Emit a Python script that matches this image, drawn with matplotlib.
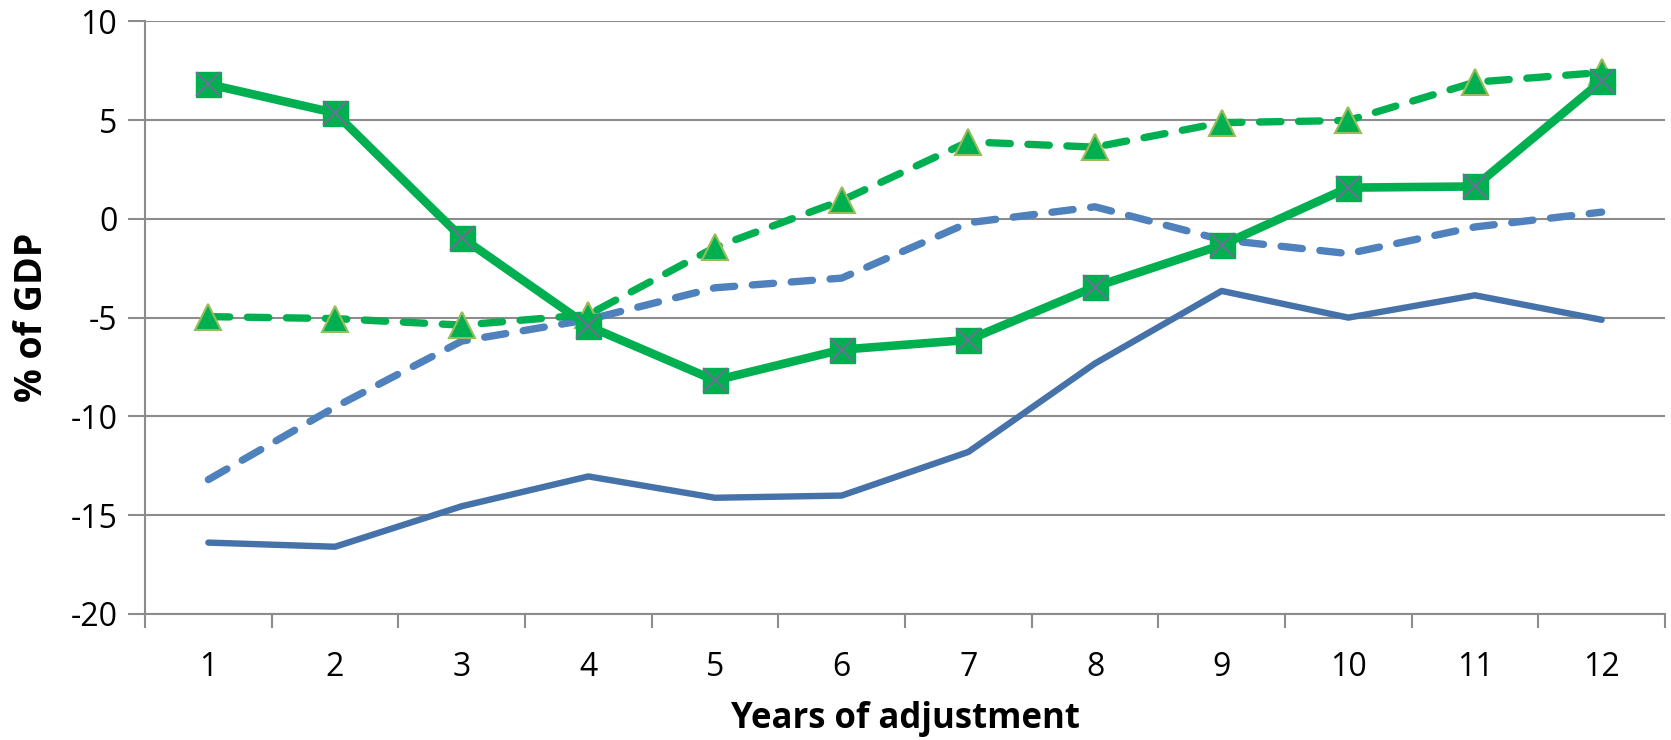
import numpy as np
import matplotlib.pyplot as plt

years = np.arange(1, 13)

# % of GDP series over the adjustment years
green_solid = [6.82, 5.36, -0.95, -5.43, -8.18, -6.62, -6.13, -3.44, -1.33, 1.58, 1.64, 6.98]
green_dashed = [-4.95, -5.05, -5.38, -4.85, -1.44, 0.93, 3.9, 3.63, 4.87, 4.98, 6.92, 7.41]
blue_dashed = [-13.2, -9.53, -6.19, -5.1, -3.49, -3.0, -0.2, 0.61, -1.06, -1.76, -0.41, 0.34]
blue_solid = [-16.39, -16.6, -14.55, -13.04, -14.12, -14.01, -11.8, -7.32, -3.65, -5.0, -3.87, -5.11]

GREEN = "#00B050"
BLUE = "#4672AA"
BLUE_LIGHT = "#4F81BD"
GRID = "#8C8C8C"

plt.rcParams["font.family"] = ["Open Sans", "DejaVu Sans"]
plt.rcParams["axes.unicode_minus"] = False

fig = plt.figure(figsize=(16.71, 7.40), dpi=100)
ax = fig.add_axes([0.0868, 0.1704, 0.9096, 0.8008])

ax.plot(years, blue_solid, color=BLUE, lw=4.6, solid_capstyle="round",
        solid_joinstyle="round", zorder=3)
ax.plot(years, blue_dashed, color=BLUE_LIGHT, lw=5.3, dashes=(2.9, 2.4),
        dash_capstyle="round", dash_joinstyle="round", zorder=3)
ax.plot(years, green_dashed, color=GREEN, lw=5.3, dashes=(2.9, 2.4), dash_capstyle="round",
        marker="^", ms=19, mfc=GREEN, mec="#9BBB59", mew=1.5, zorder=4)
ax.plot(years, green_solid, color=GREEN, lw=6.2, solid_capstyle="round", zorder=5,
        solid_joinstyle="round", marker="s", ms=18, mfc=GREEN, mec=GREEN, mew=1)
# purple cross drawn over each square marker
ax.plot(years, green_solid, ls="none", marker="x", ms=17, mec="#8064A2", mew=1.2, zorder=6)

ax.set_xlim(0.5, 12.5)
ax.set_ylim(-20, 10)
ax.set_yticks(np.arange(-20, 11, 5))
ax.set_xticks(years)
ax.set_xticks(np.arange(0.5, 12.6, 1), minor=True)
ax.tick_params(axis="x", which="major", length=0, pad=27, labelsize=23)
ax.tick_params(axis="x", which="minor", length=10, width=1.5, color=GRID)
ax.tick_params(axis="y", length=12, width=1.5, color=GRID, pad=8, labelsize=23)

ax.yaxis.grid(True, color=GRID, lw=1.5)
ax.set_axisbelow(True)
for side in ("top", "right"):
    ax.spines[side].set_visible(False)
for side in ("left", "bottom"):
    ax.spines[side].set_color(GRID)
    ax.spines[side].set_linewidth(1.5)

ax.set_xlabel("Years of adjustment", fontsize=25, fontweight="bold", labelpad=12)
ax.set_ylabel("% of GDP", fontsize=27, fontweight="bold", labelpad=14)

fig.savefig("out.png", dpi=100)
